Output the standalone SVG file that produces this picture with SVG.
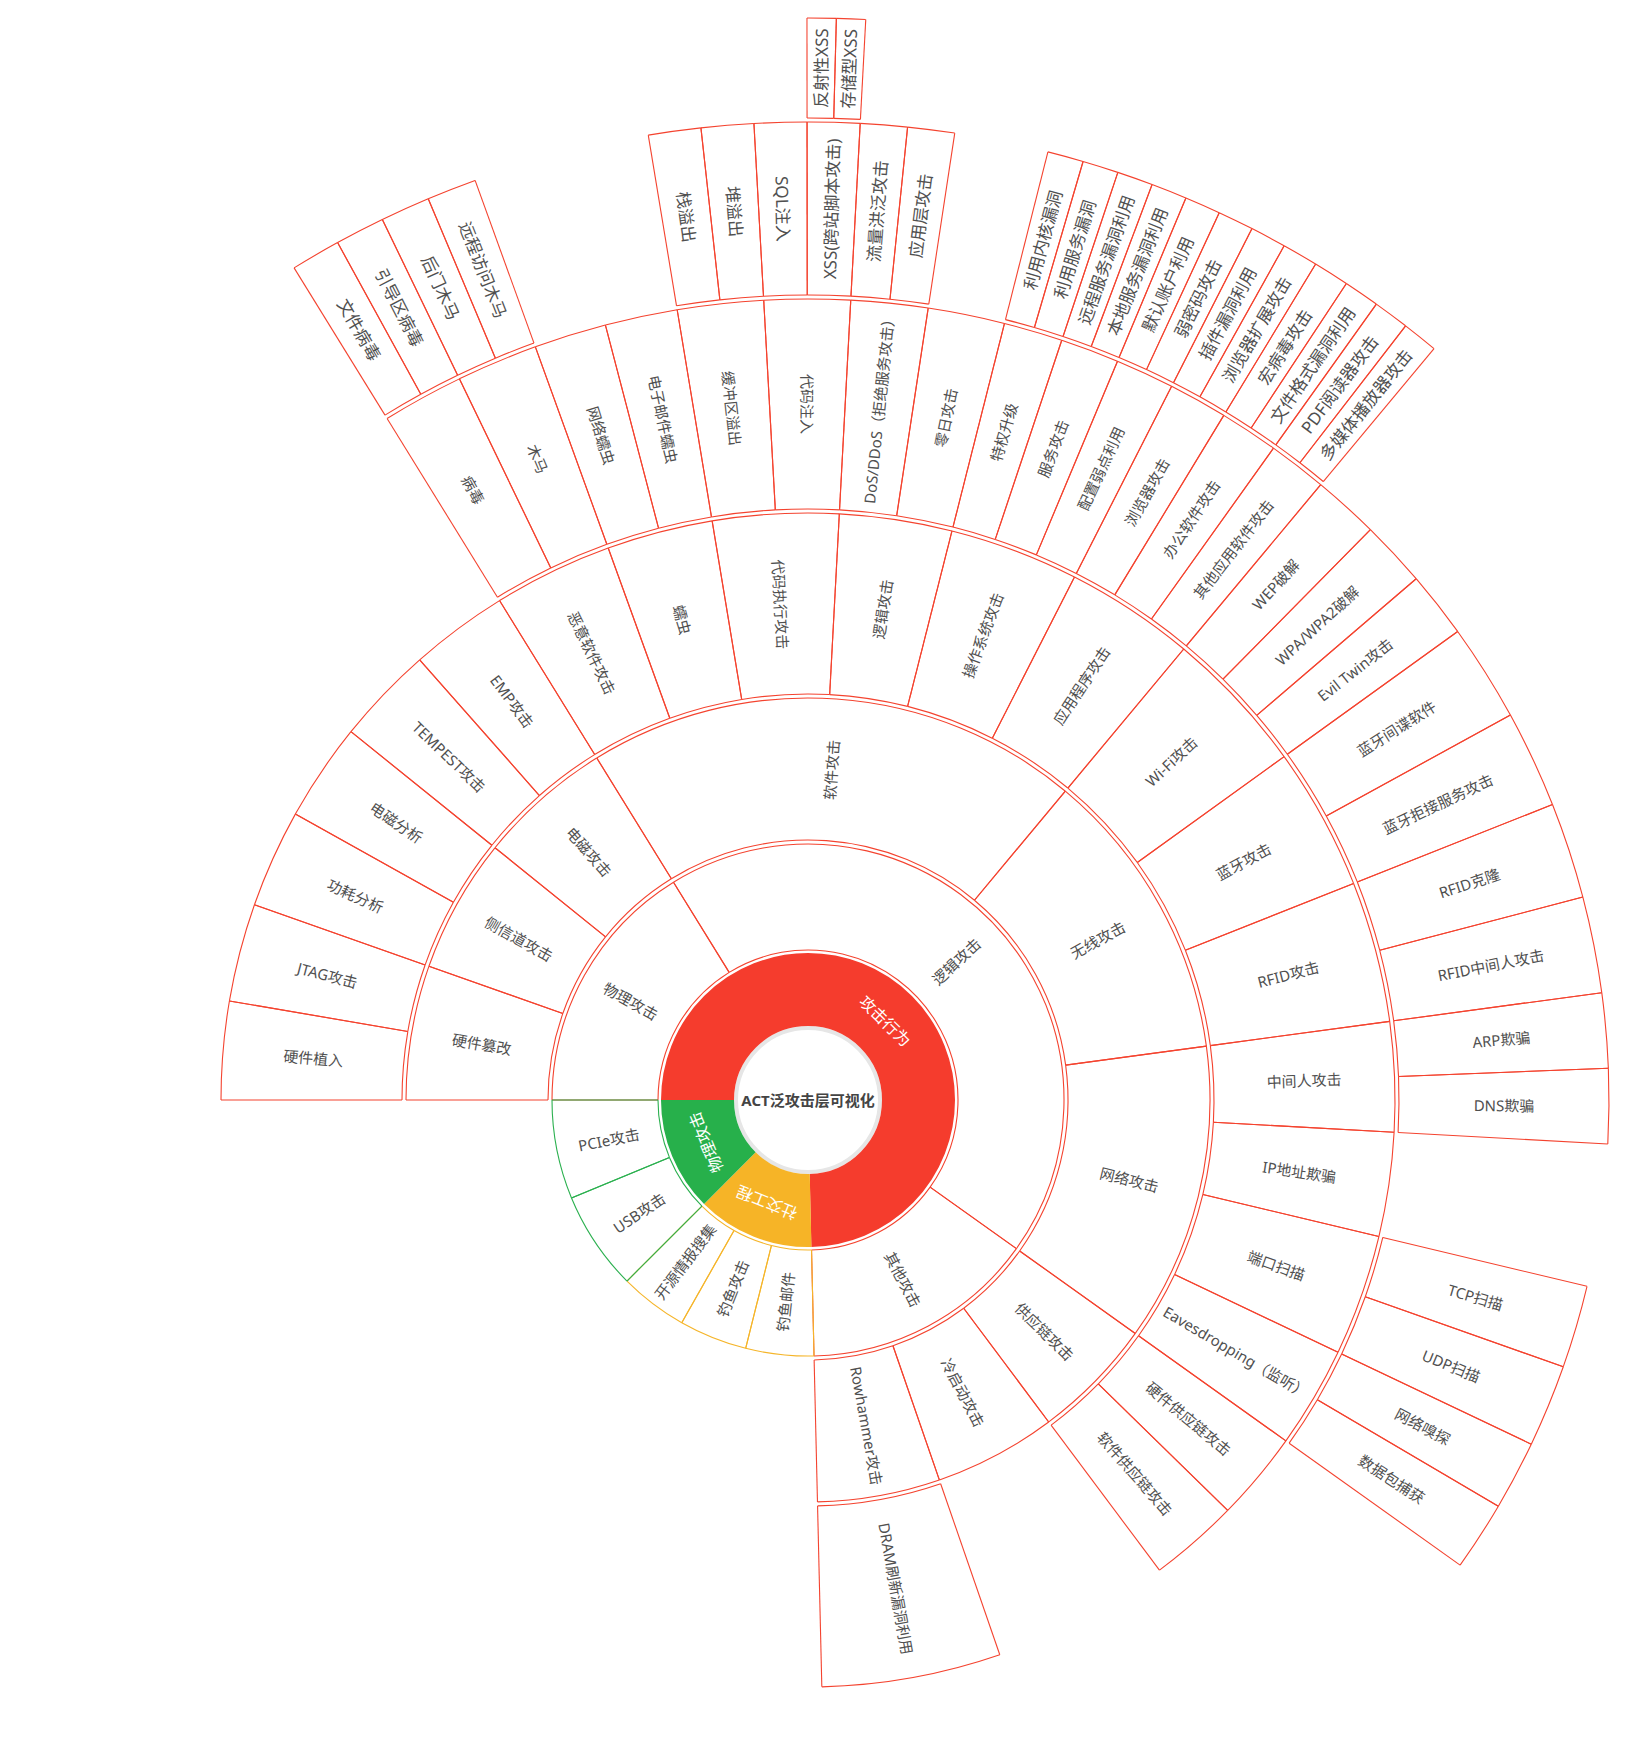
<svg xmlns="http://www.w3.org/2000/svg" width="1630" height="1744" viewBox="0 0 1630 1744">
<style>
.r circle,.r line{stroke:#f4432f;fill:none;stroke-width:1.1}
.o circle,.o line{stroke:#f5b52a;fill:none;stroke-width:1.1}
.g circle,.g line{stroke:#2bb04f;fill:none;stroke-width:1.1}
text{font-family:"Noto Sans","Noto Sans CJK SC",sans-serif;font-size:15px;fill:#505050;text-anchor:middle;dominant-baseline:central}
text.b{font-size:17px}
text.w{fill:#fff;font-size:16px}
text.c{fill:#444;font-size:15px;font-weight:bold}
</style>
<rect width="1630" height="1744" fill="#fff"/>
<g transform="translate(808 1100)">
<g id="root">
<circle r="72" fill="#fff" stroke="#e6e6e6" stroke-width="4"/>
<text class="c" x="0" y="0">ACT泛攻击层可视化</text>
</g>
<g id="n_gongjixingwei"><circle r="110.5" fill="none" stroke="#f53c2d" stroke-width="73" pathLength="360" stroke-dasharray="268.65 360" transform="rotate(-180)"/><text class="w" transform="rotate(44.325) translate(0 -110.5)">攻击行为</text></g>
<g id="n_shejiaogongcheng"><circle r="110.5" fill="none" stroke="#f6b427" stroke-width="73" pathLength="360" stroke-dasharray="46.35 360" transform="rotate(88.65)"/><text class="w" transform="rotate(201.825) translate(0 -110.5)">社交工程</text></g>
<g id="n_wuligongji_root"><circle r="110.5" fill="none" stroke="#27b04b" stroke-width="73" pathLength="360" stroke-dasharray="45 360" transform="rotate(-225)"/><text class="w" transform="rotate(-112.5) translate(0 -110.5)">物理攻击</text></g>

<g id="n_wuligongji" class="r"><circle r="150" pathLength="360" stroke-dasharray="58.3 360" transform="rotate(-180)"/><circle r="256" pathLength="360" stroke-dasharray="58.3 360" transform="rotate(-180)"/><line y1="-150" y2="-256" transform="rotate(-90)"/><line y1="-150" y2="-256" transform="rotate(-31.7)"/><text transform="rotate(-60.85) translate(0 -203) rotate(90)">物理攻击</text></g>
<g id="n_luojigongji" class="r"><circle r="150" pathLength="360" stroke-dasharray="157.2 360" transform="rotate(-121.7)"/><circle r="256" pathLength="360" stroke-dasharray="157.2 360" transform="rotate(-121.7)"/><line y1="-150" y2="-256" transform="rotate(-31.7)"/><line y1="-150" y2="-256" transform="rotate(125.5)"/><text transform="rotate(46.9) translate(0 -203) rotate(-90)">逻辑攻击</text></g>
<g id="n_qitagongji" class="r"><circle r="150" pathLength="360" stroke-dasharray="53.15 360" transform="rotate(35.5)"/><circle r="256" pathLength="360" stroke-dasharray="53.15 360" transform="rotate(35.5)"/><line y1="-150" y2="-256" transform="rotate(125.5)"/><line y1="-150" y2="-256" transform="rotate(178.65)"/><text transform="rotate(152.075) translate(0 -203) rotate(-90)">其他攻击</text></g>
<g id="n_diaoyuyoujian" class="o"><circle r="150" pathLength="360" stroke-dasharray="15.45 360" transform="rotate(88.65)"/><circle r="256" pathLength="360" stroke-dasharray="15.45 360" transform="rotate(88.65)"/><line y1="-150" y2="-256" transform="rotate(178.65)"/><line y1="-150" y2="-256" transform="rotate(194.1)"/><text transform="rotate(186.375) translate(0 -203) rotate(90)">钓鱼邮件</text></g>
<g id="n_diaoyugongji" class="o"><circle r="150" pathLength="360" stroke-dasharray="15.45 360" transform="rotate(104.1)"/><circle r="256" pathLength="360" stroke-dasharray="15.45 360" transform="rotate(104.1)"/><line y1="-150" y2="-256" transform="rotate(194.1)"/><line y1="-150" y2="-256" transform="rotate(209.55)"/><text transform="rotate(201.825) translate(0 -203) rotate(90)">钓鱼攻击</text></g>
<g id="n_kaiyuanqingbao" class="o"><circle r="150" pathLength="360" stroke-dasharray="15.45 360" transform="rotate(119.55)"/><circle r="256" pathLength="360" stroke-dasharray="15.45 360" transform="rotate(119.55)"/><line y1="-150" y2="-256" transform="rotate(209.55)"/><line y1="-150" y2="-256" transform="rotate(225)"/><text transform="rotate(217.275) translate(0 -203) rotate(90)">开源情报搜集</text></g>
<g id="n_usb" class="g"><circle r="150" pathLength="360" stroke-dasharray="22.5 360" transform="rotate(-225)"/><circle r="256" pathLength="360" stroke-dasharray="22.5 360" transform="rotate(-225)"/><line y1="-150" y2="-256" transform="rotate(-135)"/><line y1="-150" y2="-256" transform="rotate(-112.5)"/><text transform="rotate(-123.75) translate(0 -203) rotate(90)">USB攻击</text></g>
<g id="n_pcie" class="g"><circle r="150" pathLength="360" stroke-dasharray="22.5 360" transform="rotate(-202.5)"/><circle r="256" pathLength="360" stroke-dasharray="22.5 360" transform="rotate(-202.5)"/><line y1="-150" y2="-256" transform="rotate(-112.5)"/><line y1="-150" y2="-256" transform="rotate(-90)"/><text transform="rotate(-101.25) translate(0 -203) rotate(90)">PCIe攻击</text></g>

<g id="n_yingjiancuangai" class="r"><circle r="260" pathLength="360" stroke-dasharray="19.433 360" transform="rotate(-180)"/><circle r="402" pathLength="360" stroke-dasharray="19.433 360" transform="rotate(-180)"/><line y1="-260" y2="-402" transform="rotate(-90)"/><line y1="-260" y2="-402" transform="rotate(-70.567)"/><text transform="rotate(-80.283) translate(0 -331) rotate(90)">硬件篡改</text></g>
<g id="n_cexindao" class="r"><circle r="260" pathLength="360" stroke-dasharray="19.433 360" transform="rotate(-160.567)"/><circle r="402" pathLength="360" stroke-dasharray="19.433 360" transform="rotate(-160.567)"/><line y1="-260" y2="-402" transform="rotate(-70.567)"/><line y1="-260" y2="-402" transform="rotate(-51.133)"/><text transform="rotate(-60.85) translate(0 -331) rotate(90)">侧信道攻击</text></g>
<g id="n_dianci" class="r"><circle r="260" pathLength="360" stroke-dasharray="19.433 360" transform="rotate(-141.133)"/><circle r="402" pathLength="360" stroke-dasharray="19.433 360" transform="rotate(-141.133)"/><line y1="-260" y2="-402" transform="rotate(-51.133)"/><line y1="-260" y2="-402" transform="rotate(-31.7)"/><text transform="rotate(-41.417) translate(0 -331) rotate(90)">电磁攻击</text></g>
<g id="n_ruanjian" class="r"><circle r="260" pathLength="360" stroke-dasharray="71.5 360" transform="rotate(-121.7)"/><circle r="402" pathLength="360" stroke-dasharray="71.5 360" transform="rotate(-121.7)"/><line y1="-260" y2="-402" transform="rotate(-31.7)"/><line y1="-260" y2="-402" transform="rotate(39.8)"/><text transform="rotate(4.05) translate(0 -331) rotate(-90)">软件攻击</text></g>
<g id="n_wuxian" class="r"><circle r="260" pathLength="360" stroke-dasharray="42.5 360" transform="rotate(-50.2)"/><circle r="402" pathLength="360" stroke-dasharray="42.5 360" transform="rotate(-50.2)"/><line y1="-260" y2="-402" transform="rotate(39.8)"/><line y1="-260" y2="-402" transform="rotate(82.3)"/><text transform="rotate(61.05) translate(0 -331) rotate(-90)">无线攻击</text></g>
<g id="n_wangluo" class="r"><circle r="260" pathLength="360" stroke-dasharray="43.2 360" transform="rotate(-7.7)"/><circle r="402" pathLength="360" stroke-dasharray="43.2 360" transform="rotate(-7.7)"/><line y1="-260" y2="-402" transform="rotate(82.3)"/><line y1="-260" y2="-402" transform="rotate(125.5)"/><text transform="rotate(103.9) translate(0 -331) rotate(-90)">网络攻击</text></g>
<g id="n_gongyinglian" class="r"><circle r="260" pathLength="360" stroke-dasharray="17.72 360" transform="rotate(35.5)"/><circle r="402" pathLength="360" stroke-dasharray="17.72 360" transform="rotate(35.5)"/><line y1="-260" y2="-402" transform="rotate(125.5)"/><line y1="-260" y2="-402" transform="rotate(143.22)"/><text transform="rotate(134.36) translate(0 -331) rotate(-90)">供应链攻击</text></g>
<g id="n_lengqidong" class="r"><circle r="260" pathLength="360" stroke-dasharray="17.71 360" transform="rotate(53.22)"/><circle r="402" pathLength="360" stroke-dasharray="17.71 360" transform="rotate(53.22)"/><line y1="-260" y2="-402" transform="rotate(143.22)"/><line y1="-260" y2="-402" transform="rotate(160.93)"/><text transform="rotate(152.075) translate(0 -331) rotate(-90)">冷启动攻击</text></g>
<g id="n_rowhammer" class="r"><circle r="260" pathLength="360" stroke-dasharray="17.72 360" transform="rotate(70.93)"/><circle r="402" pathLength="360" stroke-dasharray="17.72 360" transform="rotate(70.93)"/><line y1="-260" y2="-402" transform="rotate(160.93)"/><line y1="-260" y2="-402" transform="rotate(178.65)"/><text transform="rotate(169.79) translate(0 -331) rotate(-90)">Rowhammer攻击</text></g>

<g id="n_yingjianzhiru" class="r"><circle r="406" pathLength="360" stroke-dasharray="9.717 360" transform="rotate(-180)"/><circle r="587" pathLength="360" stroke-dasharray="9.717 360" transform="rotate(-180)"/><line y1="-406" y2="-587" transform="rotate(-90)"/><line y1="-406" y2="-587" transform="rotate(-80.283)"/><text transform="rotate(-85.142) translate(0 -496.5) rotate(90)">硬件植入</text></g>
<g id="n_jtag" class="r"><circle r="406" pathLength="360" stroke-dasharray="9.717 360" transform="rotate(-170.283)"/><circle r="587" pathLength="360" stroke-dasharray="9.717 360" transform="rotate(-170.283)"/><line y1="-406" y2="-587" transform="rotate(-80.283)"/><line y1="-406" y2="-587" transform="rotate(-70.567)"/><text transform="rotate(-75.425) translate(0 -496.5) rotate(90)">JTAG攻击</text></g>
<g id="n_gonghao" class="r"><circle r="406" pathLength="360" stroke-dasharray="9.717 360" transform="rotate(-160.567)"/><circle r="587" pathLength="360" stroke-dasharray="9.717 360" transform="rotate(-160.567)"/><line y1="-406" y2="-587" transform="rotate(-70.567)"/><line y1="-406" y2="-587" transform="rotate(-60.85)"/><text transform="rotate(-65.708) translate(0 -496.5) rotate(90)">功耗分析</text></g>
<g id="n_diancifenxi" class="r"><circle r="406" pathLength="360" stroke-dasharray="9.717 360" transform="rotate(-150.85)"/><circle r="587" pathLength="360" stroke-dasharray="9.717 360" transform="rotate(-150.85)"/><line y1="-406" y2="-587" transform="rotate(-60.85)"/><line y1="-406" y2="-587" transform="rotate(-51.133)"/><text transform="rotate(-55.992) translate(0 -496.5) rotate(90)">电磁分析</text></g>
<g id="n_tempest" class="r"><circle r="406" pathLength="360" stroke-dasharray="9.717 360" transform="rotate(-141.133)"/><circle r="587" pathLength="360" stroke-dasharray="9.717 360" transform="rotate(-141.133)"/><line y1="-406" y2="-587" transform="rotate(-51.133)"/><line y1="-406" y2="-587" transform="rotate(-41.417)"/><text transform="rotate(-46.275) translate(0 -496.5) rotate(90)">TEMPEST攻击</text></g>
<g id="n_emp" class="r"><circle r="406" pathLength="360" stroke-dasharray="9.717 360" transform="rotate(-131.417)"/><circle r="587" pathLength="360" stroke-dasharray="9.717 360" transform="rotate(-131.417)"/><line y1="-406" y2="-587" transform="rotate(-41.417)"/><line y1="-406" y2="-587" transform="rotate(-31.7)"/><text transform="rotate(-36.558) translate(0 -496.5) rotate(90)">EMP攻击</text></g>
<g id="n_eyiruanjian" class="r"><circle r="406" pathLength="360" stroke-dasharray="11.8 360" transform="rotate(-121.7)"/><circle r="587" pathLength="360" stroke-dasharray="11.8 360" transform="rotate(-121.7)"/><line y1="-406" y2="-587" transform="rotate(-31.7)"/><line y1="-406" y2="-587" transform="rotate(-19.9)"/><text transform="rotate(-25.8) translate(0 -496.5) rotate(90)">恶意软件攻击</text></g>
<g id="n_ruchong" class="r"><circle r="406" pathLength="360" stroke-dasharray="10.5 360" transform="rotate(-109.9)"/><circle r="587" pathLength="360" stroke-dasharray="10.5 360" transform="rotate(-109.9)"/><line y1="-406" y2="-587" transform="rotate(-19.9)"/><line y1="-406" y2="-587" transform="rotate(-9.4)"/><text transform="rotate(-14.65) translate(0 -496.5) rotate(90)">蠕虫</text></g>
<g id="n_daimazhixing" class="r"><circle r="406" pathLength="360" stroke-dasharray="12.46 360" transform="rotate(-99.4)"/><circle r="587" pathLength="360" stroke-dasharray="12.46 360" transform="rotate(-99.4)"/><line y1="-406" y2="-587" transform="rotate(-9.4)"/><line y1="-406" y2="-587" transform="rotate(3.06)"/><text transform="rotate(-3.17) translate(0 -496.5) rotate(90)">代码执行攻击</text></g>
<g id="n_luojigongji3" class="r"><circle r="406" pathLength="360" stroke-dasharray="11.14 360" transform="rotate(-86.94)"/><circle r="587" pathLength="360" stroke-dasharray="11.14 360" transform="rotate(-86.94)"/><line y1="-406" y2="-587" transform="rotate(3.06)"/><line y1="-406" y2="-587" transform="rotate(14.2)"/><text transform="rotate(8.63) translate(0 -496.5) rotate(-90)">逻辑攻击</text></g>
<g id="n_caozuoxitong" class="r"><circle r="406" pathLength="360" stroke-dasharray="12.8 360" transform="rotate(-75.8)"/><circle r="587" pathLength="360" stroke-dasharray="12.8 360" transform="rotate(-75.8)"/><line y1="-406" y2="-587" transform="rotate(14.2)"/><line y1="-406" y2="-587" transform="rotate(27)"/><text transform="rotate(20.6) translate(0 -496.5) rotate(-90)">操作系统攻击</text></g>
<g id="n_yingyongchengxu" class="r"><circle r="406" pathLength="360" stroke-dasharray="12.8 360" transform="rotate(-63)"/><circle r="587" pathLength="360" stroke-dasharray="12.8 360" transform="rotate(-63)"/><line y1="-406" y2="-587" transform="rotate(27)"/><line y1="-406" y2="-587" transform="rotate(39.8)"/><text transform="rotate(33.4) translate(0 -496.5) rotate(-90)">应用程序攻击</text></g>
<g id="n_wifi" class="r"><circle r="406" pathLength="360" stroke-dasharray="14.4 360" transform="rotate(-50.2)"/><circle r="587" pathLength="360" stroke-dasharray="14.4 360" transform="rotate(-50.2)"/><line y1="-406" y2="-587" transform="rotate(39.8)"/><line y1="-406" y2="-587" transform="rotate(54.2)"/><text transform="rotate(47) translate(0 -496.5) rotate(-90)">Wi-Fi攻击</text></g>
<g id="n_lanya" class="r"><circle r="406" pathLength="360" stroke-dasharray="14.15 360" transform="rotate(-35.8)"/><circle r="587" pathLength="360" stroke-dasharray="14.15 360" transform="rotate(-35.8)"/><line y1="-406" y2="-587" transform="rotate(54.2)"/><line y1="-406" y2="-587" transform="rotate(68.35)"/><text transform="rotate(61.275) translate(0 -496.5) rotate(-90)">蓝牙攻击</text></g>
<g id="n_rfid" class="r"><circle r="406" pathLength="360" stroke-dasharray="13.95 360" transform="rotate(-21.65)"/><circle r="587" pathLength="360" stroke-dasharray="13.95 360" transform="rotate(-21.65)"/><line y1="-406" y2="-587" transform="rotate(68.35)"/><line y1="-406" y2="-587" transform="rotate(82.3)"/><text transform="rotate(75.325) translate(0 -496.5) rotate(-90)">RFID攻击</text></g>
<g id="n_zhongjianren" class="r"><circle r="406" pathLength="360" stroke-dasharray="10.85 360" transform="rotate(-7.7)"/><circle r="587" pathLength="360" stroke-dasharray="10.85 360" transform="rotate(-7.7)"/><line y1="-406" y2="-587" transform="rotate(82.3)"/><line y1="-406" y2="-587" transform="rotate(93.15)"/><text transform="rotate(87.725) translate(0 -496.5) rotate(-90)">中间人攻击</text></g>
<g id="n_ipqipian" class="r"><circle r="406" pathLength="360" stroke-dasharray="10.3 360" transform="rotate(3.15)"/><circle r="587" pathLength="360" stroke-dasharray="10.3 360" transform="rotate(3.15)"/><line y1="-406" y2="-587" transform="rotate(93.15)"/><line y1="-406" y2="-587" transform="rotate(103.45)"/><text transform="rotate(98.3) translate(0 -496.5) rotate(-90)">IP地址欺骗</text></g>
<g id="n_duankousaomiao" class="r"><circle r="406" pathLength="360" stroke-dasharray="12 360" transform="rotate(13.45)"/><circle r="587" pathLength="360" stroke-dasharray="12 360" transform="rotate(13.45)"/><line y1="-406" y2="-587" transform="rotate(103.45)"/><line y1="-406" y2="-587" transform="rotate(115.45)"/><text transform="rotate(109.45) translate(0 -496.5) rotate(-90)">端口扫描</text></g>
<g id="n_eavesdropping" class="r"><circle r="406" pathLength="360" stroke-dasharray="10.05 360" transform="rotate(25.45)"/><circle r="587" pathLength="360" stroke-dasharray="10.05 360" transform="rotate(25.45)"/><line y1="-406" y2="-587" transform="rotate(115.45)"/><line y1="-406" y2="-587" transform="rotate(125.5)"/><text transform="rotate(120.475) translate(0 -496.5) rotate(-90)">Eavesdropping（监听）</text></g>
<g id="n_yingjiangongying" class="r"><circle r="406" pathLength="360" stroke-dasharray="8.86 360" transform="rotate(35.5)"/><circle r="587" pathLength="360" stroke-dasharray="8.86 360" transform="rotate(35.5)"/><line y1="-406" y2="-587" transform="rotate(125.5)"/><line y1="-406" y2="-587" transform="rotate(134.36)"/><text transform="rotate(129.93) translate(0 -496.5) rotate(-90)">硬件供应链攻击</text></g>
<g id="n_ruanjiangongying" class="r"><circle r="406" pathLength="360" stroke-dasharray="8.86 360" transform="rotate(44.36)"/><circle r="587" pathLength="360" stroke-dasharray="8.86 360" transform="rotate(44.36)"/><line y1="-406" y2="-587" transform="rotate(134.36)"/><line y1="-406" y2="-587" transform="rotate(143.22)"/><text transform="rotate(138.79) translate(0 -496.5) rotate(-90)">软件供应链攻击</text></g>
<g id="n_dram" class="r"><circle r="406" pathLength="360" stroke-dasharray="17.72 360" transform="rotate(70.93)"/><circle r="587" pathLength="360" stroke-dasharray="17.72 360" transform="rotate(70.93)"/><line y1="-406" y2="-587" transform="rotate(160.93)"/><line y1="-406" y2="-587" transform="rotate(178.65)"/><text transform="rotate(169.79) translate(0 -496.5) rotate(-90)">DRAM刷新漏洞利用</text></g>

<g id="n_bingdu" class="r"><circle r="591" pathLength="360" stroke-dasharray="5.9 360" transform="rotate(-121.7)"/><circle r="801" pathLength="360" stroke-dasharray="5.9 360" transform="rotate(-121.7)"/><line y1="-591" y2="-801" transform="rotate(-31.7)"/><line y1="-591" y2="-801" transform="rotate(-25.8)"/><text transform="rotate(-28.75) translate(0 -696) rotate(90)">病毒</text></g>
<g id="n_muma" class="r"><circle r="591" pathLength="360" stroke-dasharray="5.9 360" transform="rotate(-115.8)"/><circle r="801" pathLength="360" stroke-dasharray="5.9 360" transform="rotate(-115.8)"/><line y1="-591" y2="-801" transform="rotate(-25.8)"/><line y1="-591" y2="-801" transform="rotate(-19.9)"/><text transform="rotate(-22.85) translate(0 -696) rotate(90)">木马</text></g>
<g id="n_wangluoruchong" class="r"><circle r="591" pathLength="360" stroke-dasharray="5.25 360" transform="rotate(-109.9)"/><circle r="801" pathLength="360" stroke-dasharray="5.25 360" transform="rotate(-109.9)"/><line y1="-591" y2="-801" transform="rotate(-19.9)"/><line y1="-591" y2="-801" transform="rotate(-14.65)"/><text transform="rotate(-17.275) translate(0 -696) rotate(90)">网络蠕虫</text></g>
<g id="n_youjianruchong" class="r"><circle r="591" pathLength="360" stroke-dasharray="5.25 360" transform="rotate(-104.65)"/><circle r="801" pathLength="360" stroke-dasharray="5.25 360" transform="rotate(-104.65)"/><line y1="-591" y2="-801" transform="rotate(-14.65)"/><line y1="-591" y2="-801" transform="rotate(-9.4)"/><text transform="rotate(-12.025) translate(0 -696) rotate(90)">电子邮件蠕虫</text></g>
<g id="n_huanchongqu" class="r"><circle r="591" pathLength="360" stroke-dasharray="6.23 360" transform="rotate(-99.4)"/><circle r="801" pathLength="360" stroke-dasharray="6.23 360" transform="rotate(-99.4)"/><line y1="-591" y2="-801" transform="rotate(-9.4)"/><line y1="-591" y2="-801" transform="rotate(-3.17)"/><text transform="rotate(-6.285) translate(0 -696) rotate(90)">缓冲区溢出</text></g>
<g id="n_daimazhuru" class="r"><circle r="591" pathLength="360" stroke-dasharray="6.23 360" transform="rotate(-93.17)"/><circle r="801" pathLength="360" stroke-dasharray="6.23 360" transform="rotate(-93.17)"/><line y1="-591" y2="-801" transform="rotate(-3.17)"/><line y1="-591" y2="-801" transform="rotate(3.06)"/><text transform="rotate(-0.055) translate(0 -696) rotate(90)">代码注入</text></g>
<g id="n_dos" class="r"><circle r="591" pathLength="360" stroke-dasharray="5.57 360" transform="rotate(-86.94)"/><circle r="801" pathLength="360" stroke-dasharray="5.57 360" transform="rotate(-86.94)"/><line y1="-591" y2="-801" transform="rotate(3.06)"/><line y1="-591" y2="-801" transform="rotate(8.63)"/><text transform="rotate(5.845) translate(0 -696) rotate(-90)">DoS/DDoS（拒绝服务攻击）</text></g>
<g id="n_lingri" class="r"><circle r="591" pathLength="360" stroke-dasharray="5.57 360" transform="rotate(-81.37)"/><circle r="801" pathLength="360" stroke-dasharray="5.57 360" transform="rotate(-81.37)"/><line y1="-591" y2="-801" transform="rotate(8.63)"/><line y1="-591" y2="-801" transform="rotate(14.2)"/><text transform="rotate(11.415) translate(0 -696) rotate(-90)">零日攻击</text></g>
<g id="n_tequan" class="r"><circle r="591" pathLength="360" stroke-dasharray="4.27 360" transform="rotate(-75.8)"/><circle r="801" pathLength="360" stroke-dasharray="4.27 360" transform="rotate(-75.8)"/><line y1="-591" y2="-801" transform="rotate(14.2)"/><line y1="-591" y2="-801" transform="rotate(18.47)"/><text transform="rotate(16.335) translate(0 -696) rotate(-90)">特权升级</text></g>
<g id="n_fuwugongji" class="r"><circle r="591" pathLength="360" stroke-dasharray="4.26 360" transform="rotate(-71.53)"/><circle r="801" pathLength="360" stroke-dasharray="4.26 360" transform="rotate(-71.53)"/><line y1="-591" y2="-801" transform="rotate(18.47)"/><line y1="-591" y2="-801" transform="rotate(22.73)"/><text transform="rotate(20.6) translate(0 -696) rotate(-90)">服务攻击</text></g>
<g id="n_peizhi" class="r"><circle r="591" pathLength="360" stroke-dasharray="4.27 360" transform="rotate(-67.27)"/><circle r="801" pathLength="360" stroke-dasharray="4.27 360" transform="rotate(-67.27)"/><line y1="-591" y2="-801" transform="rotate(22.73)"/><line y1="-591" y2="-801" transform="rotate(27)"/><text transform="rotate(24.865) translate(0 -696) rotate(-90)">配置弱点利用</text></g>
<g id="n_liulanqi" class="r"><circle r="591" pathLength="360" stroke-dasharray="4.27 360" transform="rotate(-63)"/><circle r="801" pathLength="360" stroke-dasharray="4.27 360" transform="rotate(-63)"/><line y1="-591" y2="-801" transform="rotate(27)"/><line y1="-591" y2="-801" transform="rotate(31.27)"/><text transform="rotate(29.135) translate(0 -696) rotate(-90)">浏览器攻击</text></g>
<g id="n_bangong" class="r"><circle r="591" pathLength="360" stroke-dasharray="4.26 360" transform="rotate(-58.73)"/><circle r="801" pathLength="360" stroke-dasharray="4.26 360" transform="rotate(-58.73)"/><line y1="-591" y2="-801" transform="rotate(31.27)"/><line y1="-591" y2="-801" transform="rotate(35.53)"/><text transform="rotate(33.4) translate(0 -696) rotate(-90)">办公软件攻击</text></g>
<g id="n_qitayingyong" class="r"><circle r="591" pathLength="360" stroke-dasharray="4.27 360" transform="rotate(-54.47)"/><circle r="801" pathLength="360" stroke-dasharray="4.27 360" transform="rotate(-54.47)"/><line y1="-591" y2="-801" transform="rotate(35.53)"/><line y1="-591" y2="-801" transform="rotate(39.8)"/><text transform="rotate(37.665) translate(0 -696) rotate(-90)">其他应用软件攻击</text></g>
<g id="n_wep" class="r"><circle r="591" pathLength="360" stroke-dasharray="4.8 360" transform="rotate(-50.2)"/><circle r="801" pathLength="360" stroke-dasharray="4.8 360" transform="rotate(-50.2)"/><line y1="-591" y2="-801" transform="rotate(39.8)"/><line y1="-591" y2="-801" transform="rotate(44.6)"/><text transform="rotate(42.2) translate(0 -696) rotate(-90)">WEP破解</text></g>
<g id="n_wpa" class="r"><circle r="591" pathLength="360" stroke-dasharray="4.8 360" transform="rotate(-45.4)"/><circle r="801" pathLength="360" stroke-dasharray="4.8 360" transform="rotate(-45.4)"/><line y1="-591" y2="-801" transform="rotate(44.6)"/><line y1="-591" y2="-801" transform="rotate(49.4)"/><text transform="rotate(47) translate(0 -696) rotate(-90)">WPA/WPA2破解</text></g>
<g id="n_eviltwin" class="r"><circle r="591" pathLength="360" stroke-dasharray="4.8 360" transform="rotate(-40.6)"/><circle r="801" pathLength="360" stroke-dasharray="4.8 360" transform="rotate(-40.6)"/><line y1="-591" y2="-801" transform="rotate(49.4)"/><line y1="-591" y2="-801" transform="rotate(54.2)"/><text transform="rotate(51.8) translate(0 -696) rotate(-90)">Evil Twin攻击</text></g>
<g id="n_lanyajiandie" class="r"><circle r="591" pathLength="360" stroke-dasharray="7.075 360" transform="rotate(-35.8)"/><circle r="801" pathLength="360" stroke-dasharray="7.075 360" transform="rotate(-35.8)"/><line y1="-591" y2="-801" transform="rotate(54.2)"/><line y1="-591" y2="-801" transform="rotate(61.275)"/><text transform="rotate(57.738) translate(0 -696) rotate(-90)">蓝牙间谍软件</text></g>
<g id="n_lanyajujie" class="r"><circle r="591" pathLength="360" stroke-dasharray="7.075 360" transform="rotate(-28.725)"/><circle r="801" pathLength="360" stroke-dasharray="7.075 360" transform="rotate(-28.725)"/><line y1="-591" y2="-801" transform="rotate(61.275)"/><line y1="-591" y2="-801" transform="rotate(68.35)"/><text transform="rotate(64.813) translate(0 -696) rotate(-90)">蓝牙拒接服务攻击</text></g>
<g id="n_rfidkelong" class="r"><circle r="591" pathLength="360" stroke-dasharray="6.975 360" transform="rotate(-21.65)"/><circle r="801" pathLength="360" stroke-dasharray="6.975 360" transform="rotate(-21.65)"/><line y1="-591" y2="-801" transform="rotate(68.35)"/><line y1="-591" y2="-801" transform="rotate(75.325)"/><text transform="rotate(71.838) translate(0 -696) rotate(-90)">RFID克隆</text></g>
<g id="n_rfidzhongjianren" class="r"><circle r="591" pathLength="360" stroke-dasharray="6.975 360" transform="rotate(-14.675)"/><circle r="801" pathLength="360" stroke-dasharray="6.975 360" transform="rotate(-14.675)"/><line y1="-591" y2="-801" transform="rotate(75.325)"/><line y1="-591" y2="-801" transform="rotate(82.3)"/><text transform="rotate(78.813) translate(0 -696) rotate(-90)">RFID中间人攻击</text></g>
<g id="n_arp" class="r"><circle r="591" pathLength="360" stroke-dasharray="5.425 360" transform="rotate(-7.7)"/><circle r="801" pathLength="360" stroke-dasharray="5.425 360" transform="rotate(-7.7)"/><line y1="-591" y2="-801" transform="rotate(82.3)"/><line y1="-591" y2="-801" transform="rotate(87.725)"/><text transform="rotate(85.013) translate(0 -696) rotate(-90)">ARP欺骗</text></g>
<g id="n_dns" class="r"><circle r="591" pathLength="360" stroke-dasharray="5.425 360" transform="rotate(-2.275)"/><circle r="801" pathLength="360" stroke-dasharray="5.425 360" transform="rotate(-2.275)"/><line y1="-591" y2="-801" transform="rotate(87.725)"/><line y1="-591" y2="-801" transform="rotate(93.15)"/><text transform="rotate(90.438) translate(0 -696) rotate(-90)">DNS欺骗</text></g>
<g id="n_tcp" class="r"><circle r="591" pathLength="360" stroke-dasharray="6 360" transform="rotate(13.45)"/><circle r="801" pathLength="360" stroke-dasharray="6 360" transform="rotate(13.45)"/><line y1="-591" y2="-801" transform="rotate(103.45)"/><line y1="-591" y2="-801" transform="rotate(109.45)"/><text transform="rotate(106.45) translate(0 -696) rotate(-90)">TCP扫描</text></g>
<g id="n_udp" class="r"><circle r="591" pathLength="360" stroke-dasharray="6 360" transform="rotate(19.45)"/><circle r="801" pathLength="360" stroke-dasharray="6 360" transform="rotate(19.45)"/><line y1="-591" y2="-801" transform="rotate(109.45)"/><line y1="-591" y2="-801" transform="rotate(115.45)"/><text transform="rotate(112.45) translate(0 -696) rotate(-90)">UDP扫描</text></g>
<g id="n_xiutan" class="r"><circle r="591" pathLength="360" stroke-dasharray="5.025 360" transform="rotate(25.45)"/><circle r="801" pathLength="360" stroke-dasharray="5.025 360" transform="rotate(25.45)"/><line y1="-591" y2="-801" transform="rotate(115.45)"/><line y1="-591" y2="-801" transform="rotate(120.475)"/><text transform="rotate(117.963) translate(0 -696) rotate(-90)">网络嗅探</text></g>
<g id="n_shujubao" class="r"><circle r="591" pathLength="360" stroke-dasharray="5.025 360" transform="rotate(30.475)"/><circle r="801" pathLength="360" stroke-dasharray="5.025 360" transform="rotate(30.475)"/><line y1="-591" y2="-801" transform="rotate(120.475)"/><line y1="-591" y2="-801" transform="rotate(125.5)"/><text transform="rotate(122.988) translate(0 -696) rotate(-90)">数据包捕获</text></g>

<g id="n_wenjianbingdu" class="r"><circle r="805" pathLength="360" stroke-dasharray="2.95 360" transform="rotate(-121.7)"/><circle r="978" pathLength="360" stroke-dasharray="2.95 360" transform="rotate(-121.7)"/><line y1="-805" y2="-978" transform="rotate(-31.7)"/><line y1="-805" y2="-978" transform="rotate(-28.75)"/><text class="b" transform="rotate(-30.225) translate(0 -891.5) rotate(90)">文件病毒</text></g>
<g id="n_yindaoqu" class="r"><circle r="805" pathLength="360" stroke-dasharray="2.95 360" transform="rotate(-118.75)"/><circle r="978" pathLength="360" stroke-dasharray="2.95 360" transform="rotate(-118.75)"/><line y1="-805" y2="-978" transform="rotate(-28.75)"/><line y1="-805" y2="-978" transform="rotate(-25.8)"/><text class="b" transform="rotate(-27.275) translate(0 -891.5) rotate(90)">引导区病毒</text></g>
<g id="n_houmen" class="r"><circle r="805" pathLength="360" stroke-dasharray="2.95 360" transform="rotate(-115.8)"/><circle r="978" pathLength="360" stroke-dasharray="2.95 360" transform="rotate(-115.8)"/><line y1="-805" y2="-978" transform="rotate(-25.8)"/><line y1="-805" y2="-978" transform="rotate(-22.85)"/><text class="b" transform="rotate(-24.325) translate(0 -891.5) rotate(90)">后门木马</text></g>
<g id="n_yuanchengfangwen" class="r"><circle r="805" pathLength="360" stroke-dasharray="2.95 360" transform="rotate(-112.85)"/><circle r="978" pathLength="360" stroke-dasharray="2.95 360" transform="rotate(-112.85)"/><line y1="-805" y2="-978" transform="rotate(-22.85)"/><line y1="-805" y2="-978" transform="rotate(-19.9)"/><text class="b" transform="rotate(-21.375) translate(0 -891.5) rotate(90)">远程访问木马</text></g>
<g id="n_zhanyichu" class="r"><circle r="805" pathLength="360" stroke-dasharray="3.115 360" transform="rotate(-99.4)"/><circle r="978" pathLength="360" stroke-dasharray="3.115 360" transform="rotate(-99.4)"/><line y1="-805" y2="-978" transform="rotate(-9.4)"/><line y1="-805" y2="-978" transform="rotate(-6.285)"/><text class="b" transform="rotate(-7.843) translate(0 -891.5) rotate(90)">栈溢出</text></g>
<g id="n_duiyichu" class="r"><circle r="805" pathLength="360" stroke-dasharray="3.115 360" transform="rotate(-96.285)"/><circle r="978" pathLength="360" stroke-dasharray="3.115 360" transform="rotate(-96.285)"/><line y1="-805" y2="-978" transform="rotate(-6.285)"/><line y1="-805" y2="-978" transform="rotate(-3.17)"/><text class="b" transform="rotate(-4.728) translate(0 -891.5) rotate(90)">堆溢出</text></g>
<g id="n_sql" class="r"><circle r="805" pathLength="360" stroke-dasharray="3.115 360" transform="rotate(-93.17)"/><circle r="978" pathLength="360" stroke-dasharray="3.115 360" transform="rotate(-93.17)"/><line y1="-805" y2="-978" transform="rotate(-3.17)"/><line y1="-805" y2="-978" transform="rotate(-0.055)"/><text class="b" transform="rotate(-1.613) translate(0 -891.5) rotate(90)">SQL注入</text></g>
<g id="n_xss" class="r"><circle r="805" pathLength="360" stroke-dasharray="3.115 360" transform="rotate(-90.055)"/><circle r="978" pathLength="360" stroke-dasharray="3.115 360" transform="rotate(-90.055)"/><line y1="-805" y2="-978" transform="rotate(-0.055)"/><line y1="-805" y2="-978" transform="rotate(3.06)"/><text class="b" transform="rotate(1.503) translate(0 -891.5) rotate(-90)">XSS(跨站脚本攻击)</text></g>
<g id="n_liuliang" class="r"><circle r="805" pathLength="360" stroke-dasharray="2.785 360" transform="rotate(-86.94)"/><circle r="978" pathLength="360" stroke-dasharray="2.785 360" transform="rotate(-86.94)"/><line y1="-805" y2="-978" transform="rotate(3.06)"/><line y1="-805" y2="-978" transform="rotate(5.845)"/><text class="b" transform="rotate(4.453) translate(0 -891.5) rotate(-90)">流量洪泛攻击</text></g>
<g id="n_yingyongceng" class="r"><circle r="805" pathLength="360" stroke-dasharray="2.785 360" transform="rotate(-84.155)"/><circle r="978" pathLength="360" stroke-dasharray="2.785 360" transform="rotate(-84.155)"/><line y1="-805" y2="-978" transform="rotate(5.845)"/><line y1="-805" y2="-978" transform="rotate(8.63)"/><text class="b" transform="rotate(7.238) translate(0 -891.5) rotate(-90)">应用层攻击</text></g>
<g id="n_neihe" class="r"><circle r="805" pathLength="360" stroke-dasharray="2.135 360" transform="rotate(-75.8)"/><circle r="978" pathLength="360" stroke-dasharray="2.135 360" transform="rotate(-75.8)"/><line y1="-805" y2="-978" transform="rotate(14.2)"/><line y1="-805" y2="-978" transform="rotate(16.335)"/><text class="b" transform="rotate(15.268) translate(0 -891.5) rotate(-90)">利用内核漏洞</text></g>
<g id="n_fuwuloudong" class="r"><circle r="805" pathLength="360" stroke-dasharray="2.135 360" transform="rotate(-73.665)"/><circle r="978" pathLength="360" stroke-dasharray="2.135 360" transform="rotate(-73.665)"/><line y1="-805" y2="-978" transform="rotate(16.335)"/><line y1="-805" y2="-978" transform="rotate(18.47)"/><text class="b" transform="rotate(17.403) translate(0 -891.5) rotate(-90)">利用服务漏洞</text></g>
<g id="n_yuanchengfuwu" class="r"><circle r="805" pathLength="360" stroke-dasharray="2.13 360" transform="rotate(-71.53)"/><circle r="978" pathLength="360" stroke-dasharray="2.13 360" transform="rotate(-71.53)"/><line y1="-805" y2="-978" transform="rotate(18.47)"/><line y1="-805" y2="-978" transform="rotate(20.6)"/><text class="b" transform="rotate(19.535) translate(0 -891.5) rotate(-90)">远程服务漏洞利用</text></g>
<g id="n_bendifuwu" class="r"><circle r="805" pathLength="360" stroke-dasharray="2.13 360" transform="rotate(-69.4)"/><circle r="978" pathLength="360" stroke-dasharray="2.13 360" transform="rotate(-69.4)"/><line y1="-805" y2="-978" transform="rotate(20.6)"/><line y1="-805" y2="-978" transform="rotate(22.73)"/><text class="b" transform="rotate(21.665) translate(0 -891.5) rotate(-90)">本地服务漏洞利用</text></g>
<g id="n_morenzhanghu" class="r"><circle r="805" pathLength="360" stroke-dasharray="2.135 360" transform="rotate(-67.27)"/><circle r="978" pathLength="360" stroke-dasharray="2.135 360" transform="rotate(-67.27)"/><line y1="-805" y2="-978" transform="rotate(22.73)"/><line y1="-805" y2="-978" transform="rotate(24.865)"/><text class="b" transform="rotate(23.798) translate(0 -891.5) rotate(-90)">默认账户利用</text></g>
<g id="n_ruomima" class="r"><circle r="805" pathLength="360" stroke-dasharray="2.135 360" transform="rotate(-65.135)"/><circle r="978" pathLength="360" stroke-dasharray="2.135 360" transform="rotate(-65.135)"/><line y1="-805" y2="-978" transform="rotate(24.865)"/><line y1="-805" y2="-978" transform="rotate(27)"/><text class="b" transform="rotate(25.933) translate(0 -891.5) rotate(-90)">弱密码攻击</text></g>
<g id="n_chajian" class="r"><circle r="805" pathLength="360" stroke-dasharray="2.135 360" transform="rotate(-63)"/><circle r="978" pathLength="360" stroke-dasharray="2.135 360" transform="rotate(-63)"/><line y1="-805" y2="-978" transform="rotate(27)"/><line y1="-805" y2="-978" transform="rotate(29.135)"/><text class="b" transform="rotate(28.068) translate(0 -891.5) rotate(-90)">插件漏洞利用</text></g>
<g id="n_kuozhan" class="r"><circle r="805" pathLength="360" stroke-dasharray="2.135 360" transform="rotate(-60.865)"/><circle r="978" pathLength="360" stroke-dasharray="2.135 360" transform="rotate(-60.865)"/><line y1="-805" y2="-978" transform="rotate(29.135)"/><line y1="-805" y2="-978" transform="rotate(31.27)"/><text class="b" transform="rotate(30.203) translate(0 -891.5) rotate(-90)">浏览器扩展攻击</text></g>
<g id="n_hongbingdu" class="r"><circle r="805" pathLength="360" stroke-dasharray="2.13 360" transform="rotate(-58.73)"/><circle r="978" pathLength="360" stroke-dasharray="2.13 360" transform="rotate(-58.73)"/><line y1="-805" y2="-978" transform="rotate(31.27)"/><line y1="-805" y2="-978" transform="rotate(33.4)"/><text class="b" transform="rotate(32.335) translate(0 -891.5) rotate(-90)">宏病毒攻击</text></g>
<g id="n_wenjiangeshi" class="r"><circle r="805" pathLength="360" stroke-dasharray="2.13 360" transform="rotate(-56.6)"/><circle r="978" pathLength="360" stroke-dasharray="2.13 360" transform="rotate(-56.6)"/><line y1="-805" y2="-978" transform="rotate(33.4)"/><line y1="-805" y2="-978" transform="rotate(35.53)"/><text class="b" transform="rotate(34.465) translate(0 -891.5) rotate(-90)">文件格式漏洞利用</text></g>
<g id="n_pdf" class="r"><circle r="805" pathLength="360" stroke-dasharray="2.135 360" transform="rotate(-54.47)"/><circle r="978" pathLength="360" stroke-dasharray="2.135 360" transform="rotate(-54.47)"/><line y1="-805" y2="-978" transform="rotate(35.53)"/><line y1="-805" y2="-978" transform="rotate(37.665)"/><text class="b" transform="rotate(36.598) translate(0 -891.5) rotate(-90)">PDF阅读器攻击</text></g>
<g id="n_duomeiti" class="r"><circle r="805" pathLength="360" stroke-dasharray="2.135 360" transform="rotate(-52.335)"/><circle r="978" pathLength="360" stroke-dasharray="2.135 360" transform="rotate(-52.335)"/><line y1="-805" y2="-978" transform="rotate(37.665)"/><line y1="-805" y2="-978" transform="rotate(39.8)"/><text class="b" transform="rotate(38.733) translate(0 -891.5) rotate(-90)">多媒体播放器攻击</text></g>

<g id="n_fanshexss" class="r"><circle r="982" pathLength="360" stroke-dasharray="1.5575 360" transform="rotate(-90.055)"/><circle r="1082" pathLength="360" stroke-dasharray="1.5575 360" transform="rotate(-90.055)"/><line y1="-982" y2="-1082" transform="rotate(-0.055)"/><line y1="-982" y2="-1082" transform="rotate(1.5025)"/><text class="b" transform="rotate(0.724) translate(0 -1032) rotate(-90)">反射性XSS</text></g>
<g id="n_cunchuxss" class="r"><circle r="982" pathLength="360" stroke-dasharray="1.5575 360" transform="rotate(-88.4975)"/><circle r="1082" pathLength="360" stroke-dasharray="1.5575 360" transform="rotate(-88.4975)"/><line y1="-982" y2="-1082" transform="rotate(1.5025)"/><line y1="-982" y2="-1082" transform="rotate(3.06)"/><text class="b" transform="rotate(2.281) translate(0 -1032) rotate(-90)">存储型XSS</text></g>
<g id="connectors"/>
</g>
</svg>
